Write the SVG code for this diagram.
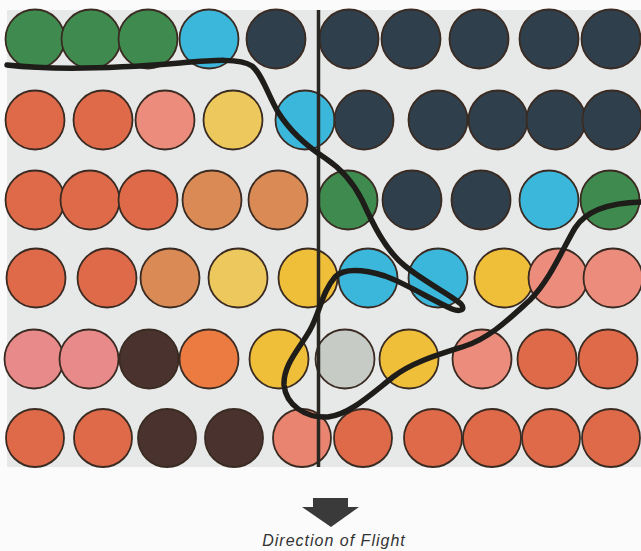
<svg xmlns="http://www.w3.org/2000/svg" width="641" height="551" viewBox="0 0 641 551">
<style>
.c{stroke:#3a2b22;stroke-width:1.8}
.gr{fill:#3e8a4f}.cy{fill:#3cb7dc}.nv{fill:#2f3f4c}.or{fill:#df6a4a}.sa{fill:#ec8c7c}
.ye{fill:#edc85c}.ta{fill:#d98a55}.yb{fill:#f0bf3a}.pk{fill:#e8898a}.br{fill:#4a332e}
.og{fill:#ec7b42}.gy{fill:#c6cbc5}.sl{fill:#e88470}
.txt{font-family:"Liberation Sans",Arial,sans-serif;font-style:italic;font-size:16px;fill:#333;letter-spacing:1px}
</style>
<rect x="0" y="0" width="641" height="551" fill="#fbfbfb"/>
<rect x="7" y="10" width="634" height="457" fill="#e7e8e8"/>
<g id="row1">
<circle class="c gr" cx="35" cy="39" r="29.5"/><circle class="c gr" cx="91" cy="39" r="29.5"/><circle class="c gr" cx="148" cy="39" r="29.5"/><circle class="c cy" cx="209" cy="39" r="29.5"/><circle class="c nv" cx="276" cy="39" r="29.5"/><circle class="c nv" cx="349" cy="39" r="29.5"/><circle class="c nv" cx="411" cy="39" r="29.5"/><circle class="c nv" cx="479" cy="39" r="29.5"/><circle class="c nv" cx="549" cy="39" r="29.5"/><circle class="c nv" cx="611" cy="39" r="29.5"/>
</g>
<g id="row2">
<circle class="c or" cx="35" cy="120" r="29.5"/><circle class="c or" cx="103" cy="120" r="29.5"/><circle class="c sa" cx="165" cy="120" r="29.5"/><circle class="c ye" cx="233" cy="120" r="29.5"/><circle class="c cy" cx="305" cy="120" r="29.5"/><circle class="c nv" cx="364" cy="120" r="29.5"/><circle class="c nv" cx="438" cy="120" r="29.5"/><circle class="c nv" cx="498" cy="120" r="29.5"/><circle class="c nv" cx="556" cy="120" r="29.5"/><circle class="c nv" cx="612" cy="120" r="29.5"/>
</g>
<g id="row3">
<circle class="c or" cx="35" cy="200" r="29.5"/><circle class="c or" cx="90" cy="200" r="29.5"/><circle class="c or" cx="148" cy="200" r="29.5"/><circle class="c ta" cx="212" cy="200" r="29.5"/><circle class="c ta" cx="278" cy="200" r="29.5"/><circle class="c gr" cx="348" cy="200" r="29.5"/><circle class="c nv" cx="412" cy="200" r="29.5"/><circle class="c nv" cx="481" cy="200" r="29.5"/><circle class="c cy" cx="549" cy="200" r="29.5"/><circle class="c gr" cx="610" cy="200" r="29.5"/>
</g>
<g id="row4">
<circle class="c or" cx="36" cy="278" r="29.5"/><circle class="c or" cx="107" cy="278" r="29.5"/><circle class="c ta" cx="170" cy="278" r="29.5"/><circle class="c ye" cx="238" cy="278" r="29.5"/><circle class="c yb" cx="308" cy="278" r="29.5"/><circle class="c cy" cx="368" cy="278" r="29.5"/><circle class="c cy" cx="438" cy="278" r="29.5"/><circle class="c yb" cx="504" cy="278" r="29.5"/><circle class="c sa" cx="558" cy="278" r="29.5"/><circle class="c sa" cx="613" cy="278" r="29.5"/>
</g>
<g id="row5">
<circle class="c pk" cx="34" cy="359" r="29.5"/><circle class="c pk" cx="89" cy="359" r="29.5"/><circle class="c br" cx="149" cy="359" r="29.5"/><circle class="c og" cx="209" cy="359" r="29.5"/><circle class="c yb" cx="279" cy="359" r="29.5"/><circle class="c gy" cx="345" cy="359" r="29.5"/><circle class="c yb" cx="409" cy="359" r="29.5"/><circle class="c sa" cx="482" cy="359" r="29.5"/><circle class="c or" cx="547" cy="359" r="29.5"/><circle class="c or" cx="608" cy="359" r="29.5"/>
</g>
<g id="row6">
<circle class="c or" cx="35" cy="438" r="29"/><circle class="c or" cx="103" cy="438" r="29"/><circle class="c br" cx="167" cy="438" r="29"/><circle class="c br" cx="234" cy="438" r="29"/><circle class="c sl" cx="302" cy="438" r="29"/><circle class="c or" cx="363" cy="438" r="29"/><circle class="c or" cx="433" cy="438" r="29"/><circle class="c or" cx="492" cy="438" r="29"/><circle class="c or" cx="551" cy="438" r="29"/><circle class="c or" cx="611" cy="438" r="29"/>
</g>
<g id="lines">
<line x1="318.5" y1="10" x2="318.5" y2="467" stroke="#2a2622" stroke-width="3.5"/>
<path d="M7,65 C60,71 120,68 180,63 C215,60 240,58 252,66 C262,74 268,95 278,112 C288,128 305,145 325,158 C340,168 352,180 362,200 C372,222 385,250 405,266 C425,282 452,296 461,304 C466,310 460,312 452,309 C430,299 405,283 385,276 C365,270 345,267 335,277 C322,292 320,312 310,330 C300,348 283,365 284,385 C286,405 305,418 328,417 C350,414 370,395 393,377 C412,362 440,354 465,346 C490,338 510,318 530,300 C550,280 562,250 575,228 C585,212 605,203 641,202" fill="none" stroke="#1e1d1a" stroke-width="5.5" stroke-linecap="round" stroke-linejoin="round"/>
</g>
<g id="arrow">
<path d="M313,498 H348 V507 H359 L331,527 L302,507 H313 Z" fill="#3a3a3a"/>
<text class="txt" x="334" y="546" text-anchor="middle">Direction of Flight</text>
</g>
</svg>
